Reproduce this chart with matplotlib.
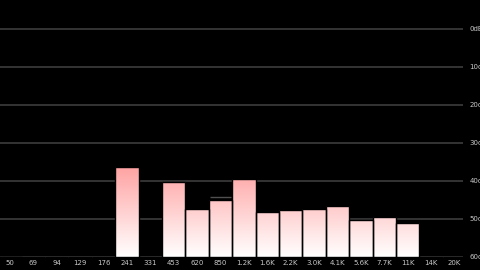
import numpy as np
import matplotlib
matplotlib.use("Agg")
import matplotlib.pyplot as plt
from matplotlib.colors import LinearSegmentedColormap

# band labels (Hz) and level below full scale in dB (60 = silent)
bands = ["50", "69", "94", "129", "176", "241", "331", "453", "620", "850",
         "1.2K", "1.6K", "2.2K", "3.0K", "4.1K", "5.6K", "7.7K", "11K", "14K", "20K"]
levels = [60, 60, 60, 60, 60, 36.2, 60, 40.2, 47.4, 45.0,
          39.6, 48.1, 47.5, 47.4, 46.6, 50.3, 49.4, 51.1, 60, 60]
peaks = [None, None, None, None, None, None, None, None, None, 44.3,
         None, None, None, None, None, None, None, None, None, None]
grid_db = [0, 10, 20, 30, 40, 50, 60]
grid_labels = ["0dB", "10dB", "20dB", "30dB", "40dB", "50dB", "60dB"]

fig = plt.figure(figsize=(4.8, 2.7), dpi=100, facecolor="black")
ax = fig.add_axes([0, 0, 1, 1])
ax.set_facecolor("black")
ax.set_xlim(-0.427, 20.09)
ax.set_ylim(63.42, -7.63)
ax.axis("off")

# grid lines + labels on the right (cut off by the edge, as in the original)
ax.hlines(grid_db, -0.43, 19.36, color="#383838", linewidth=1.3, zorder=1)
for d, lab in zip(grid_db, grid_labels):
    ax.text(19.64, d, lab, color="#c8c8c8", fontsize=5.0, ha="left", va="center")

cmap = LinearSegmentedColormap.from_list("pk", ["#ffffff", "#ff1414"])
grad = np.linspace(0, 1, 256).reshape(-1, 1)

x = np.arange(len(bands))
bars = ax.bar(x, np.array(levels) - 60, bottom=60, width=1.0,
              facecolor="none", edgecolor="black", linewidth=1.0, zorder=3)
for b, v in zip(bars, levels):
    if v >= 60:
        continue
    im = ax.imshow(grad, cmap=cmap, aspect="auto", origin="lower",
                   extent=(-0.43, 20.1, 60, 0), zorder=2)
    im.set_clip_path(b)

for i, p in enumerate(peaks):
    if p is not None:
        ax.hlines(p, i - 0.45, i + 0.45, color="#505050", linewidth=1.0, zorder=4)

for i, lab in enumerate(bands):
    ax.text(i, 61.5, lab, color="#c8c8c8", fontsize=5.0, ha="center", va="center")

fig.savefig("out.png", dpi=100, facecolor="black")
